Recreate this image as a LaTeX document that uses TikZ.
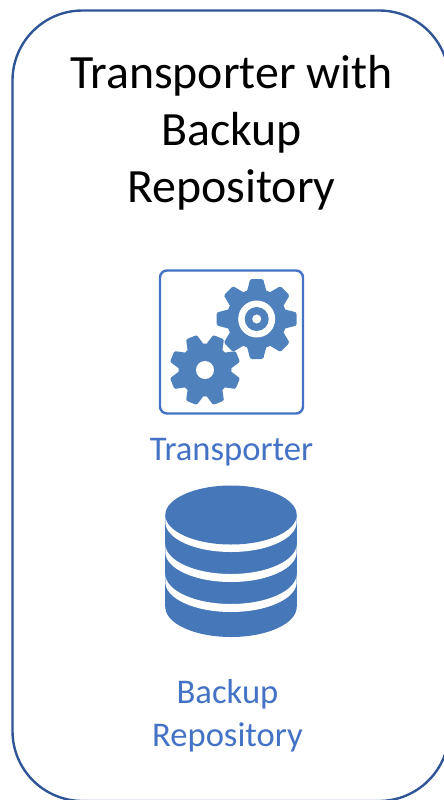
\documentclass[tikz,border=0pt]{standalone}
\usepackage{fontspec}
\setmainfont{Carlito}
\usetikzlibrary{positioning}
\definecolor{framecol}{HTML}{2F5597}
\definecolor{iconcol}{HTML}{4472C4}
\definecolor{gearcol}{HTML}{4F81BD}
\definecolor{dbcol}{HTML}{4678B9}
\tikzset{
	titlelabel/.style={align=center,font=\fontsize{47.8}{57}\selectfont,text=black},
	iconlabel/.style={align=center,font=\fontsize{34.6}{43}\selectfont,text=iconcol},
	iconbox/.style={draw=iconcol,line width=2.4pt,rounded corners=7pt,minimum width=143pt,minimum height=143pt,inner sep=0pt},
}
\newcommand{\geartooth}[3]{% centre, radius, angle
	\fill[gearcol,shift={#1},rotate=#3] (0.7*#2,-0.24*#2) -- (0.97*#2,-0.17*#2) -- (#2,-0.12*#2) -- (#2,0.12*#2) -- (0.97*#2,0.17*#2) -- (0.7*#2,0.24*#2) -- cycle;
}
\begin{document}
\begin{tikzpicture}[x=1pt,y=-1pt]
	\useasboundingbox (0,0) rectangle (444,800);
	\draw[framecol,line width=2.4pt,rounded corners=70pt] (12.5,10.5) rectangle (449,801);
	\node[titlelabel] (title) at (231.5,133) {Transporter with\\Backup\\Repository};
	\node[iconbox] (gearbox) at (231.5,342) {};
	% small gear
	\fill[gearcol] (205,370) circle (26.5);
	\foreach \ang in {0,1,...,7} {
		\pgfmathsetmacro{\toothangle}{22.5+\ang*45}
		\geartooth{(205,370)}{35.5}{\toothangle}
	}
	\fill[white] (205,370) circle (9);
	% large gear
	\fill[white] (256.7,319) circle (33);
	\fill[gearcol] (256.7,319) circle (30);
	\foreach \ang in {0,1,...,7} {
		\pgfmathsetmacro{\toothangle}{\ang*45}
		\geartooth{(256.7,319)}{40}{\toothangle}
	}
	\fill[white] (256.7,319) circle (18.5);
	\fill[gearcol] (256.7,319) circle (12);
	\fill[white] (256.7,319) circle (4.5);
	\node[iconlabel] (translabel) at (231.5,452) {Transporter};
	% repository
	\fill[dbcol] (165.3,515) rectangle (296.7,607);
	\fill[dbcol] (231,607) ellipse (65.7 and 30);
	\foreach \bandy in {514,544,574} {
		\fill[white] (165.3,\bandy) arc[start angle=180,end angle=0,x radius=65.7,y radius=30]
			-- ++(0,8) arc[start angle=0,end angle=180,x radius=65.7,y radius=30] -- cycle;
	}
	\fill[dbcol] (231,515) ellipse (65.7 and 29.5);
	\node[iconlabel] (backuplabel) at (227.5,716) {Backup\\Repository};
\end{tikzpicture}
\end{document}
